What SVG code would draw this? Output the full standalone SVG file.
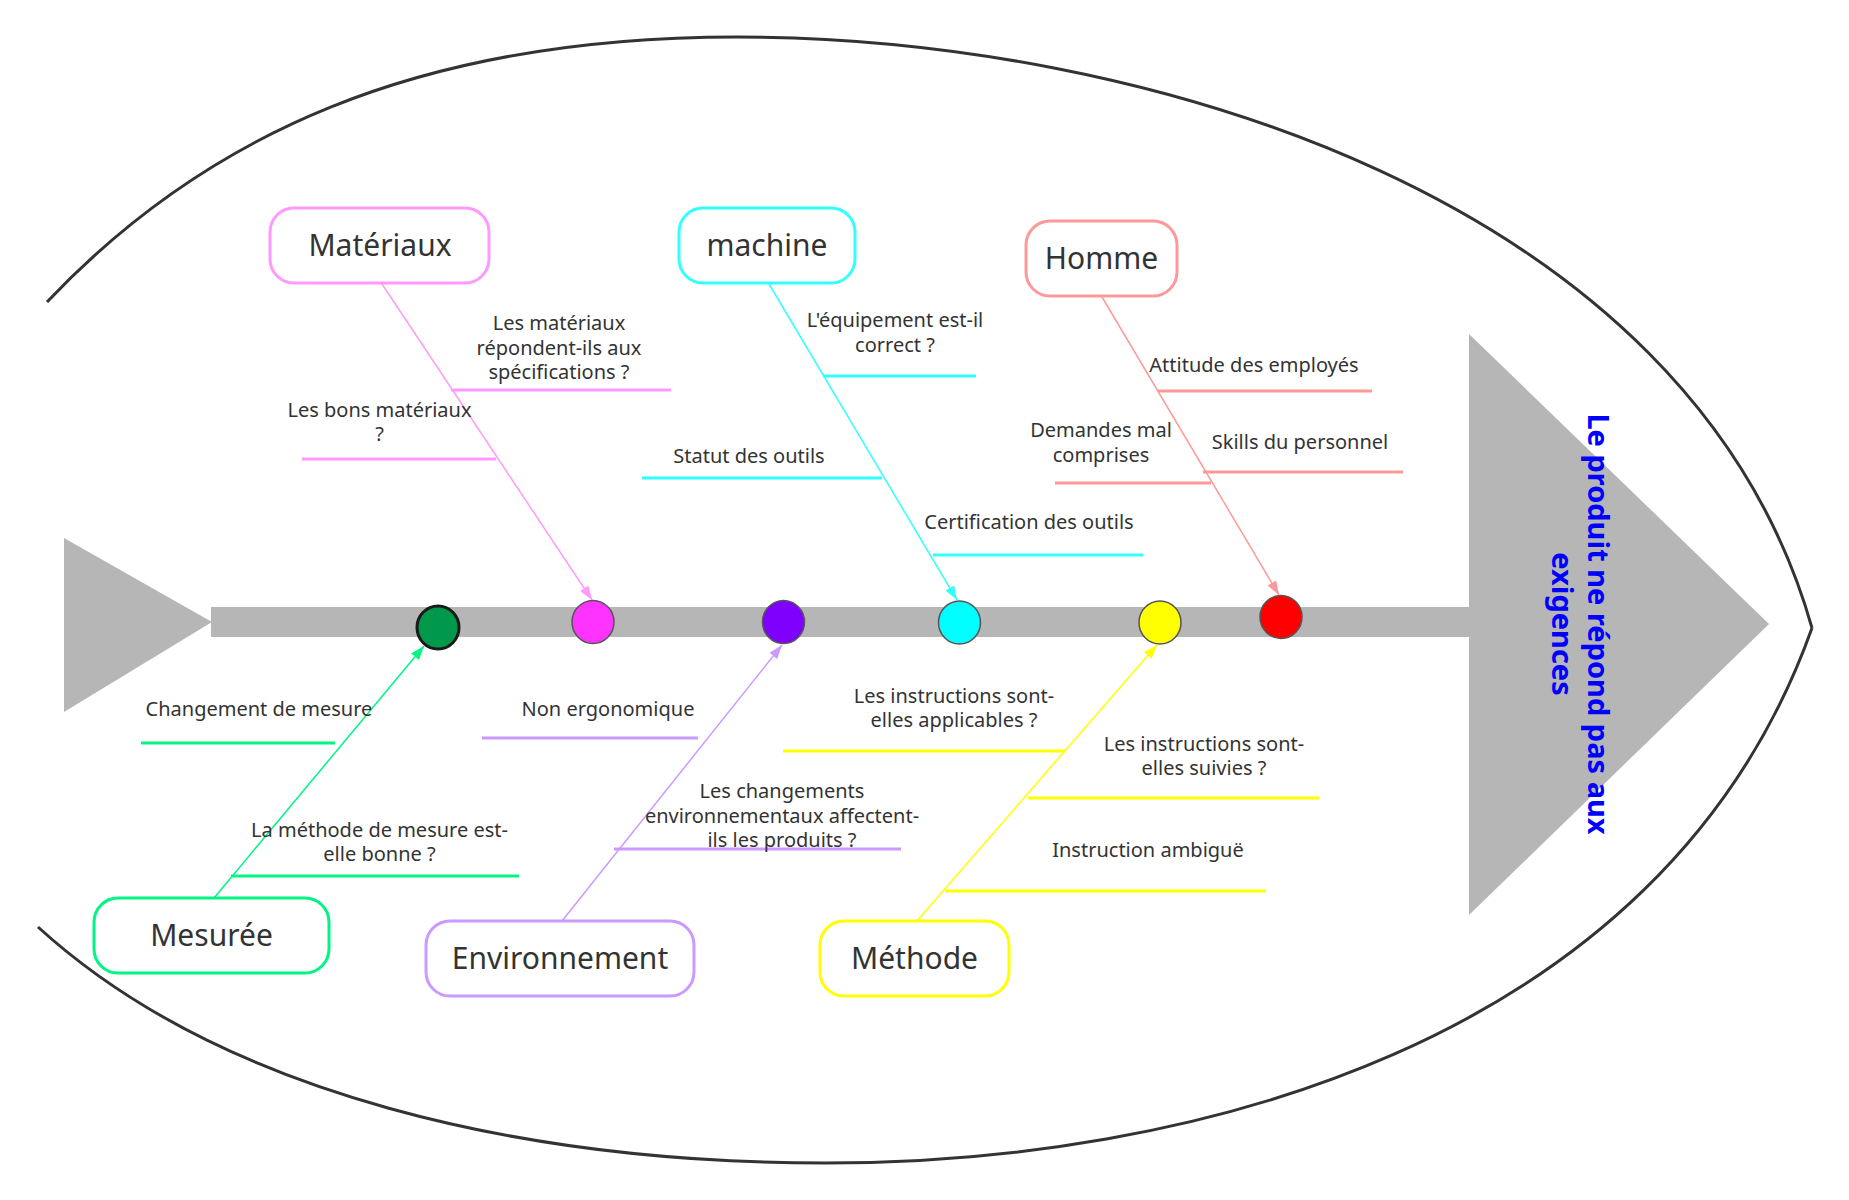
<svg xmlns="http://www.w3.org/2000/svg" width="1849" height="1200" viewBox="0 0 1849 1200">
  <style>
    .t { font-family: "Noto Sans", "Liberation Sans", sans-serif; fill: #333333; text-anchor: middle; }
    .title { font-size: 30px; }
    .lbl { font-size: 20px; }
    .box { fill: #ffffff; stroke-width: 3; }
    .br { stroke-width: 1.5; fill: none; }
    .sub { stroke-width: 3; fill: none; }
    .gray { fill: #b6b6b6; }
    .dot { stroke: #555555; stroke-width: 1.5; }
    .pink { stroke: #ff99ff; }
    .cyan { stroke: #33ffff; }
    .salmon { stroke: #ff9999; }
    .green { stroke: #00f583; }
    .lav { stroke: #cc99ff; }
    .yel { stroke: #ffff00; }
  </style>
  <defs>
    <marker id="aPink" markerUnits="userSpaceOnUse" markerWidth="14" markerHeight="10" refX="14" refY="5" orient="auto"><path d="M0,0 L14,5 L0,10 z" fill="#ff99ff"/></marker>
    <marker id="aCyan" markerUnits="userSpaceOnUse" markerWidth="14" markerHeight="10" refX="14" refY="5" orient="auto"><path d="M0,0 L14,5 L0,10 z" fill="#33ffff"/></marker>
    <marker id="aSalmon" markerUnits="userSpaceOnUse" markerWidth="14" markerHeight="10" refX="14" refY="5" orient="auto"><path d="M0,0 L14,5 L0,10 z" fill="#ff9999"/></marker>
    <marker id="aGreen" markerUnits="userSpaceOnUse" markerWidth="14" markerHeight="10" refX="14" refY="5" orient="auto"><path d="M0,0 L14,5 L0,10 z" fill="#00f583"/></marker>
    <marker id="aLav" markerUnits="userSpaceOnUse" markerWidth="14" markerHeight="10" refX="14" refY="5" orient="auto"><path d="M0,0 L14,5 L0,10 z" fill="#cc99ff"/></marker>
    <marker id="aYel" markerUnits="userSpaceOnUse" markerWidth="14" markerHeight="10" refX="14" refY="5" orient="auto"><path d="M0,0 L14,5 L0,10 z" fill="#ffff00"/></marker>
  </defs>
  <rect width="1849" height="1200" fill="#ffffff"/>

  <g id="outline" fill="none" stroke="#333333" stroke-width="3">
    <path d="M47,302 C205,135 417,37 737,37 C1137,37 1689.6,195.1 1812,628"/>
    <path d="M38,927 C222.8,1095.5 526,1163 826,1163 C1176,1163 1660.8,1051.9 1812,628"/>
  </g>

  <g id="skeleton">
    <polygon class="gray" points="64,538 212,622 64,712"/>
    <rect class="gray" x="211" y="607" width="1260" height="30"/>
    <polygon class="gray" points="1469,334 1769,624 1469,915"/>
  </g>

  <g id="connectors">
    <line class="br pink" x1="382" y1="284" x2="592" y2="600" marker-end="url(#aPink)"/>
    <line class="br cyan" x1="769" y1="284" x2="957" y2="600" marker-end="url(#aCyan)"/>
    <line class="br salmon" x1="1102" y1="297" x2="1279" y2="595" marker-end="url(#aSalmon)"/>
    <line class="br green" x1="214" y1="898" x2="424" y2="646" marker-end="url(#aGreen)"/>
    <line class="br lav" x1="562" y1="921" x2="782" y2="645" marker-end="url(#aLav)"/>
    <line class="br yel" x1="917" y1="921" x2="1157" y2="645" marker-end="url(#aYel)"/>

    <line class="sub pink" x1="451" y1="390" x2="671" y2="390"/>
    <line class="sub pink" x1="302" y1="459" x2="496" y2="459"/>
    <line class="sub cyan" x1="823" y1="376" x2="976" y2="376"/>
    <line class="sub cyan" x1="642" y1="478" x2="882" y2="478"/>
    <line class="sub cyan" x1="933" y1="555" x2="1143" y2="555"/>
    <line class="sub salmon" x1="1158" y1="391" x2="1372" y2="391"/>
    <line class="sub salmon" x1="1055" y1="483" x2="1211" y2="483"/>
    <line class="sub salmon" x1="1203" y1="472" x2="1403" y2="472"/>
    <line class="sub green" x1="141" y1="743" x2="335" y2="743"/>
    <line class="sub green" x1="231" y1="876" x2="519" y2="876"/>
    <line class="sub lav" x1="482" y1="738" x2="698" y2="738"/>
    <line class="sub lav" x1="614" y1="849" x2="901" y2="849"/>
    <line class="sub yel" x1="783" y1="751" x2="1065" y2="751"/>
    <line class="sub yel" x1="1028" y1="798" x2="1319" y2="798"/>
    <line class="sub yel" x1="945" y1="891" x2="1266" y2="891"/>
  </g>

  <g id="dots">
    <ellipse id="dot-mesuree" cx="438" cy="627.5" rx="21" ry="21.5" fill="#00994c" stroke="#1a1a1a" stroke-width="3"/>
    <ellipse id="dot-materiaux" class="dot" cx="593" cy="622" rx="21" ry="21.5" fill="#ff33ff"/>
    <ellipse id="dot-environnement" class="dot" cx="783.5" cy="622" rx="21" ry="21.5" fill="#7f00ff"/>
    <ellipse id="dot-machine" class="dot" cx="959.5" cy="622.5" rx="21" ry="21.5" fill="#00ffff"/>
    <ellipse id="dot-methode" class="dot" cx="1160" cy="622.5" rx="21" ry="21.5" fill="#ffff00"/>
    <ellipse id="dot-homme" class="dot" cx="1281" cy="617" rx="21" ry="21.5" fill="#ff0000"/>
  </g>

  <g id="node-materiaux">
    <rect class="box pink" x="270" y="208" width="219" height="75" rx="24"/>
    <text class="t title" x="380" y="256">Matériaux</text>
  </g>
  <g id="node-machine">
    <rect class="box cyan" x="679" y="208" width="176" height="75" rx="24"/>
    <text class="t title" x="767" y="256">machine</text>
  </g>
  <g id="node-homme">
    <rect class="box salmon" x="1026" y="221" width="151" height="75" rx="24"/>
    <text class="t title" x="1101.5" y="269">Homme</text>
  </g>
  <g id="node-mesuree">
    <rect class="box green" x="94" y="898" width="235" height="75" rx="24"/>
    <text class="t title" x="211.5" y="946">Mesurée</text>
  </g>
  <g id="node-environnement">
    <rect class="box lav" x="426" y="921" width="268" height="75" rx="24"/>
    <text class="t title" x="560" y="969">Environnement</text>
  </g>
  <g id="node-methode">
    <rect class="box yel" x="820" y="921" width="189" height="75" rx="24"/>
    <text class="t title" x="914.5" y="969">Méthode</text>
  </g>

  <g id="node-effet">
    <text transform="translate(1578,624) rotate(90)" font-family="'Noto Sans', 'Liberation Sans', sans-serif" font-weight="bold" font-size="29" fill="#0000ff" text-anchor="middle"><tspan x="0" y="-10">Le produit ne répond pas aux</tspan><tspan x="0" y="26">exigences</tspan></text>
  </g>

  <g id="labels">
    <text id="lbl-mat-1" class="t lbl"><tspan x="559" y="330">Les matériaux</tspan><tspan x="559" y="355">répondent-ils aux</tspan><tspan x="559" y="379">spécifications ?</tspan></text>
    <text id="lbl-mat-2" class="t lbl"><tspan x="379.5" y="417">Les bons matériaux</tspan><tspan x="379.5" y="441">?</tspan></text>
    <text id="lbl-mac-1" class="t lbl"><tspan x="895" y="327">L'équipement est-il</tspan><tspan x="895" y="352">correct ?</tspan></text>
    <text id="lbl-mac-2" class="t lbl" x="749" y="463">Statut des outils</text>
    <text id="lbl-mac-3" class="t lbl" x="1029" y="529">Certification des outils</text>
    <text id="lbl-hom-1" class="t lbl" x="1254" y="372">Attitude des employés</text>
    <text id="lbl-hom-2" class="t lbl"><tspan x="1101" y="437">Demandes mal</tspan><tspan x="1101" y="462">comprises</tspan></text>
    <text id="lbl-hom-3" class="t lbl" x="1300" y="449">Skills du personnel</text>
    <text id="lbl-mes-1" class="t lbl" x="259" y="716">Changement de mesure</text>
    <text id="lbl-mes-2" class="t lbl"><tspan x="379.5" y="837">La méthode de mesure est-</tspan><tspan x="379.5" y="861">elle bonne ?</tspan></text>
    <text id="lbl-env-1" class="t lbl" x="608" y="716">Non ergonomique</text>
    <text id="lbl-env-2" class="t lbl"><tspan x="782" y="798">Les changements</tspan><tspan x="782" y="823">environnementaux affectent-</tspan><tspan x="782" y="847">ils les produits ?</tspan></text>
    <text id="lbl-met-1" class="t lbl"><tspan x="954" y="703">Les instructions sont-</tspan><tspan x="954" y="727">elles applicables ?</tspan></text>
    <text id="lbl-met-2" class="t lbl"><tspan x="1204" y="751">Les instructions sont-</tspan><tspan x="1204" y="775">elles suivies ?</tspan></text>
    <text id="lbl-met-3" class="t lbl" x="1148" y="857">Instruction ambiguë</text>
  </g>
</svg>
